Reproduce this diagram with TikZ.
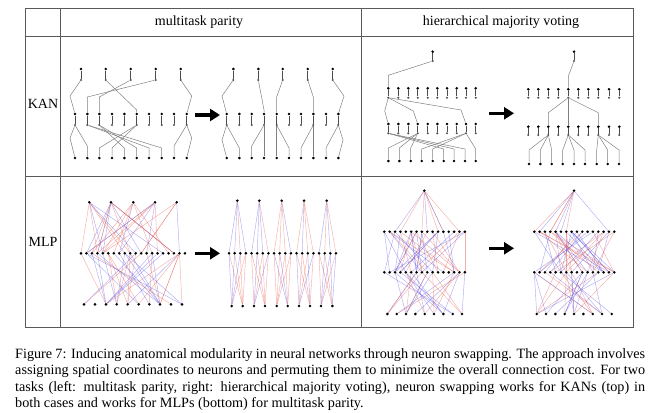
\documentclass[tikz,border=0pt]{standalone}
\usepackage{fontspec}
\setmainfont{Liberation Serif}
\usetikzlibrary{arrows.meta,calc}

\definecolor{wred}{RGB}{230,80,66}
\definecolor{wblue}{RGB}{86,76,226}
\newcommand{\kanline}[3]{\draw[kl] (#1) -- ([yshift=#3]#2.center) -- (#2);}
\newcommand{\pickcol}[1]{\ifnum#1=0 \def\col{wred}\else\def\col{wblue}\fi}

\begin{document}
\begin{tikzpicture}[x=1pt,y=-1pt,
  every node/.style={font=\fontsize{14}{16.5}\selectfont},
  grid/.style={draw=black!65,line width=0.8pt},
  dot/.style={circle,fill=black,inner sep=0pt,minimum size=2.9pt},
  sdot/.style={circle,fill=black!70,inner sep=0pt,minimum size=2.3pt},
  pair/.style={draw=black!70,line width=0.8pt},
  kl/.style={draw=black!50,line width=0.5pt},
  wire/.style={draw=#1,line width=0.45pt,opacity=0.45},
  swap/.style={line width=3.2pt,-{Triangle[length=10pt,width=12pt]}}]
 \useasboundingbox (0,0) rectangle (660,412);

 % table
 \draw[grid] (25,8) rectangle (633,327);
 \draw[grid] (60,8) -- (60,327);
 \draw[grid] (361,8) -- (361,327);
 \draw[grid] (25,36) -- (633,36);
 \draw[grid] (25,176) -- (633,176);
 \node (hpar) at (199,22) {multitask parity};
 \node (hvot) at (501,22) {hierarchical majority voting};
 \node (lkan) at (43,104) {KAN};
 \node (lmlp) at (43,242) {MLP};

 % KAN, parity, before
 \foreach \x [count=\i] in {81,105.7,130.7,155.7,180.7} {
   \node[dot] (pa-o\i) at (\x,69) {};
   \node[sdot] (pa-q\i) at (\x,80) {};
   \draw[pair] (pa-o\i) -- (pa-q\i);
 }
 \foreach \x [count=\i] in {75,87.3,99.3,112,124.3,136.7,149,161.7,174,186.7} {
   \node[dot] (pa-h\i) at (\x,114) {};
   \node[sdot] (pa-g\i) at (\x,125) {};
   \draw[pair] (pa-h\i) -- (pa-g\i);
   \node[dot] (pa-i\i) at (\x,158) {};
 }
 \draw[kl] (pa-q1) -- (70,96) -- (pa-h1);
 \kanline{pa-q2}{pa-h6}{4pt}
 \kanline{pa-q3}{pa-h3}{17pt}
 \kanline{pa-q4}{pa-h2}{17pt}
 \draw[kl] (pa-q5) -- (191.7,96) -- (pa-h10);
 \draw[kl] (pa-g1) -- (70,138) -- (pa-i1);
 \kanline{pa-g1}{pa-i2}{12pt}
 \kanline{pa-g2}{pa-i7}{10pt}
 \kanline{pa-g2}{pa-i8}{10pt}
 \kanline{pa-g3}{pa-i5}{10pt}
 \kanline{pa-g3}{pa-i6}{10pt}
 \kanline{pa-g6}{pa-i3}{10pt}
 \kanline{pa-g6}{pa-i4}{10pt}
 \kanline{pa-g10}{pa-i9}{12pt}
 \draw[kl] (pa-g10) -- (191.7,138) -- (pa-i10);

 % KAN, parity, after
 \foreach \x [count=\i] in {233.3,258.3,282.7,307.7,332.7} {
   \node[dot] (pb-o\i) at (\x,69) {};
   \node[sdot] (pb-q\i) at (\x,80) {};
   \draw[pair] (pb-o\i) -- (pb-q\i);
 }
 \foreach \x [count=\i] in {226.7,239.3,251.7,264,276.7,289,301,313.3,326,338.3} {
   \node[dot] (pb-h\i) at (\x,114) {};
   \node[sdot] (pb-g\i) at (\x,125) {};
   \draw[pair] (pb-h\i) -- (pb-g\i);
   \node[dot] (pb-i\i) at (\x,158) {};
 }
 \draw[kl] (pb-q1) -- (222,96) -- (pb-h1);
 \kanline{pb-q2}{pb-h4}{4pt}
 \kanline{pb-q3}{pb-h5}{17pt}
 \kanline{pb-q4}{pb-h8}{17pt}
 \draw[kl] (pb-q5) -- (344,96) -- (pb-h10);
 \draw[kl] (pb-g1) -- (222,140) -- (pb-i1);
 \kanline{pb-g1}{pb-i2}{10pt}
 \kanline{pb-g4}{pb-i3}{12pt}
 \draw[kl] (pb-g4) -- (pb-i4);
 \draw[kl] (pb-g5) -- (pb-i5);
 \kanline{pb-g5}{pb-i6}{10pt}
 \kanline{pb-g8}{pb-i7}{10pt}
 \draw[kl] (pb-g8) -- (pb-i8);
 \kanline{pb-g10}{pb-i9}{10pt}
 \draw[kl] (pb-g10) -- (343,140) -- (pb-i10);

 % KAN, voting, before
 \node[dot] (va-o) at (432.7,51.7) {};
 \node[sdot] (va-q) at (432.7,61) {};
 \draw[pair] (va-o) -- (va-q);
 \foreach \x [count=\i] in {388.3,398.3,408.3,417.7,427.7,437.3,447,456.7,466,475.7} {
   \node[dot] (va-h\i) at (\x,88.3) {};
   \node[sdot] (va-g\i) at (\x,97.7) {};
   \draw[pair] (va-h\i) -- (va-g\i);
   \node[dot] (va-k\i) at (\x,124) {};
   \node[sdot] (va-m\i) at (\x,133.3) {};
   \draw[pair] (va-k\i) -- (va-m\i);
 }
 \foreach \x [count=\i] in {388.3,399.3,410.7,421.7,432.7,443.7,454,465,475.7}
   \node[dot] (va-i\i) at (\x,161) {};
 \kanline{va-q}{va-h1}{13pt}
 \draw[kl] (va-g1) -- (384.7,111) -- (va-k1);
 \draw[kl] (va-g1) -- (413.3,111) -- (va-k4);
 \draw[kl] (va-g1) -- (461,110) -- (va-k9);
 \foreach \j in {1,2,3} {\kanline{va-m4}{va-i\j}{13pt}}
 \foreach \j in {6,7,8} {\kanline{va-m1}{va-i\j}{12pt}}
 \foreach \j in {4,5,9} {\kanline{va-m9}{va-i\j}{12pt}}

 % KAN, voting, after
 \node[dot] (vb-o) at (574,51.7) {};
 \node[sdot] (vb-q) at (574,61) {};
 \draw[pair] (vb-o) -- (vb-q);
 \foreach \x [count=\i] in {528.3,538.3,548.3,558.3,568.3,578.3,588.3,598.3,609,619.3} {
   \node[dot] (vb-h\i) at (\x,89.3) {};
   \node[sdot] (vb-g\i) at (\x,97.7) {};
   \draw[pair] (vb-h\i) -- (vb-g\i);
   \node[dot] (vb-k\i) at (\x,126.7) {};
   \node[sdot] (vb-m\i) at (\x,135) {};
   \draw[pair] (vb-k\i) -- (vb-m\i);
 }
 \foreach \x [count=\i] in {529,540.3,551.7,562.7,574,585,596.7,607.7,619}
   \node[dot] (vb-i\i) at (\x,164) {};
 \kanline{vb-q}{vb-h5}{13pt}
 \kanline{vb-g5}{vb-k3}{14pt}
 \draw[kl] (vb-g5) -- (vb-k5);
 \kanline{vb-g5}{vb-k8}{14pt}
 \foreach \j in {1,2,3} {\kanline{vb-m3}{vb-i\j}{14pt}}
 \foreach \j in {4,5,6} {\kanline{vb-m5}{vb-i\j}{14pt}}
 \foreach \j in {7,8,9} {\kanline{vb-m8}{vb-i\j}{14pt}}

 % MLP, parity
 \foreach \x [count=\i] in {89.3,111,133.3,155,176.7}
   \node[dot] (mpa-t\i) at (\x,202.3) {};
 \foreach \i in {1,...,20}
   \node[dot] (mpa-h\i) at ({81+5.47*(\i-1)},253.3) {};
 \foreach \x [count=\i] in {84,95,106,116.7,127.7,138.7,149.3,160,171,182}
   \node[dot] (mpa-i\i) at (\x,304.3) {};
 \foreach \x [count=\i] in {237.3,259.3,281.7,304,326.7}
   \node[dot] (mpb-t\i) at (\x,200.7) {};
 \foreach \i in {1,...,20}
   \node[dot] (mpb-h\i) at ({229+5.63*(\i-1)},253.3) {};
 \foreach \x [count=\i] in {231.7,242.7,254,265,276.7,287.7,299,310,321,332.3}
   \node[dot] (mpb-i\i) at (\x,306) {};

 \pgfmathsetseed{11}
 \foreach \k in {1,...,34} {
   \pgfmathtruncatemacro\a{random(1,5)}
   \pgfmathtruncatemacro\b{random(1,20)}
   \pgfmathtruncatemacro\c{random(0,1)}
   \pickcol{\c}
   \draw[wire=\col] (mpa-t\a) -- (mpa-h\b);
   \pgfmathtruncatemacro\a{random(1,20)}
   \pgfmathtruncatemacro\b{random(1,10)}
   \pgfmathtruncatemacro\c{random(0,1)}
   \pickcol{\c}
   \draw[wire=\col] (mpa-h\a) -- (mpa-i\b);
 }
 \foreach \t in {1,...,5} {
   \foreach \j in {1,...,4} {
     \pgfmathtruncatemacro\h{4*(\t-1)+\j}
     \pgfmathtruncatemacro\u{2*\t-1}
     \pgfmathtruncatemacro\v{2*\t}
     \pgfmathtruncatemacro\c{random(0,1)}
     \pickcol{\c}
     \draw[wire=\col] (mpb-t\t) -- (mpb-h\h);
     \pgfmathtruncatemacro\c{random(0,1)}
     \pickcol{\c}
     \draw[wire=\col] (mpb-h\h) -- (mpb-i\u);
     \pgfmathtruncatemacro\c{random(0,1)}
     \pickcol{\c}
     \draw[wire=\col] (mpb-h\h) -- (mpb-i\v);
   }
 }

 % MLP, voting
 \node[dot] (mva-t) at (424.3,190.7) {};
 \node[dot] (mvb-t) at (574,190.7) {};
 \foreach \i in {1,...,16} {
   \node[dot] (mva-h\i) at ({384.3+5.37*(\i-1)},231.7) {};
   \node[dot] (mva-k\i) at ({384.3+5.37*(\i-1)},272.3) {};
   \node[dot] (mvb-h\i) at ({534.3+5.33*(\i-1)},231.7) {};
   \node[dot] (mvb-k\i) at ({534.3+5.33*(\i-1)},272.3) {};
 }
 \foreach \x [count=\i] in {387.3,396.7,406,415.3,424.7,434,443.3,452.7,462}
   \node[dot] (mva-i\i) at (\x,314) {};
 \foreach \x [count=\i] in {536.7,546,555.3,564.7,574,583.3,592.7,602,611.7}
   \node[dot] (mvb-i\i) at (\x,314) {};
 \foreach \p in {mva,mvb} {
   \foreach \k in {1,...,8} {
     \pgfmathtruncatemacro\b{random(1,16)}
     \pgfmathtruncatemacro\c{random(0,1)}
     \pickcol{\c}
     \draw[wire=\col] (\p-t) -- (\p-h\b);
   }
   \foreach \k in {1,...,40} {
     \pgfmathtruncatemacro\a{random(1,16)}
     \pgfmathtruncatemacro\b{random(1,16)}
     \pgfmathtruncatemacro\c{random(0,1)}
     \pickcol{\c}
     \draw[wire=\col] (\p-h\a) -- (\p-k\b);
   }
   \foreach \k in {1,...,26} {
     \pgfmathtruncatemacro\a{random(1,16)}
     \pgfmathtruncatemacro\b{random(1,9)}
     \pgfmathtruncatemacro\c{random(0,1)}
     \pickcol{\c}
     \draw[wire=\col] (\p-k\a) -- (\p-i\b);
   }
 }

 % swap arrows
 \coordinate (s1a) at (195,115);   \coordinate (s1b) at (220,115);
 \coordinate (s2a) at (489,113.3); \coordinate (s2b) at (514,113.3);
 \coordinate (s3a) at (195,253.3); \coordinate (s3b) at (220,253.3);
 \coordinate (s4a) at (489,248.3); \coordinate (s4b) at (514,248.3);
 \draw[swap] (s1a) -- (s1b);
 \draw[swap] (s2a) -- (s2b);
 \draw[swap] (s3a) -- (s3b);
 \draw[swap] (s4a) -- (s4b);

 % caption
 \node[anchor=north west,text width=630pt,align=justify,inner sep=0pt,
       font=\fontsize{14.2}{16.5}\selectfont] (cap) at (15,348)
  {Figure 7: Inducing anatomical modularity in neural networks through neuron swapping. The approach involves\linebreak
   assigning spatial coordinates to neurons and permuting them to minimize the overall connection cost. For two\linebreak
   tasks (left: multitask parity, right: hierarchical majority voting), neuron swapping works for KANs (top) in\linebreak
   both cases and works for MLPs (bottom) for multitask parity.};
\end{tikzpicture}
\end{document}
